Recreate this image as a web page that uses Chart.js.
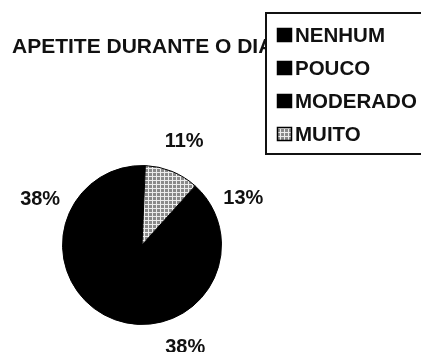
<!DOCTYPE html>
<html>
<head>
<meta charset="utf-8">
<script src="https://cdn.jsdelivr.net/npm/chart.js@4/dist/chart.umd.min.js"></script>
<style>
  html, body { margin: 0; padding: 0; background: #ffffff; }
  canvas { display: block; }
</style>
</head>
<body>
<canvas id="pie" width="421" height="352"></canvas>
<script>
// Appetite during the day: share of answers per category (percent)
const categories = ['NENHUM', 'POUCO', 'MODERADO', 'MUITO'];
const shares = [13, 38, 38, 11];
const chartTitle = 'APETITE DURANTE O DIA';

// light grey cross-hatched fill used for the "MUITO" slice
function hatchPattern() {
  const c = document.createElement('canvas');
  c.width = 4; c.height = 4;
  const g = c.getContext('2d');
  g.fillStyle = '#8a8a8a';
  g.fillRect(0, 0, 4, 4);
  g.fillStyle = '#ececec';
  g.fillRect(0, 0, 1, 4);
  g.fillRect(0, 0, 4, 1);
  return g.createPattern(c, 'repeat');
}
const hatch = hatchPattern();
const sliceColors = ['#000000', '#000000', '#000000', hatch];

const FONT = '"Liberation Sans", Arial, Helvetica, sans-serif';

// solid disc under the slices so adjoining black slices show no seams
const pieBacking = {
  id: 'pieBacking',
  beforeDatasetsDraw(chart) {
    const arc = chart.getDatasetMeta(0).data[0];
    if (!arc) return;
    const p = arc.getProps(['x', 'y', 'outerRadius'], true);
    const ctx = chart.ctx;
    ctx.save();
    ctx.fillStyle = '#000000';
    ctx.beginPath();
    ctx.arc(p.x, p.y, p.outerRadius - 0.5, 0, Math.PI * 2);
    ctx.fill();
    ctx.restore();
  }
};

// percentage labels placed outside each slice
const sliceLabels = {
  id: 'sliceLabels',
  afterDatasetsDraw(chart) {
    const ctx = chart.ctx;
    const meta = chart.getDatasetMeta(0);
    ctx.save();
    ctx.fillStyle = '#111111';
    ctx.font = 'bold 20px ' + FONT;
    ctx.textAlign = 'center';
    ctx.textBaseline = 'middle';
    meta.data.forEach((arc, i) => {
      const p = arc.getProps(['x', 'y', 'startAngle', 'endAngle', 'outerRadius'], true);
      const mid = (p.startAngle + p.endAngle) / 2;
      const r = p.outerRadius + 32;
      ctx.fillText(chart.data.datasets[0].data[i] + '%', p.x + Math.cos(mid) * r, p.y + Math.sin(mid) * r);
    });
    ctx.restore();
  }
};

// title on the left and boxed legend in the top-right corner
const titleAndLegend = {
  id: 'titleAndLegend',
  afterDraw(chart) {
    const ctx = chart.ctx;
    ctx.save();
    ctx.fillStyle = '#111111';
    ctx.font = 'bold 21px ' + FONT;
    ctx.textAlign = 'left';
    ctx.textBaseline = 'middle';
    ctx.fillText(chartTitle, 12, 47);

    const bx = 266, by = 13, bw = 170, bh = 141;
    ctx.fillStyle = '#ffffff';
    ctx.fillRect(bx, by, bw, bh);
    ctx.lineWidth = 2;
    ctx.strokeStyle = '#111111';
    ctx.strokeRect(bx, by, bw, bh);

    const colors = chart.data.datasets[0].backgroundColor;
    ctx.font = 'bold 20.5px ' + FONT;
    chart.data.labels.forEach((lab, i) => {
      const cy = 35 + i * 33;
      ctx.fillStyle = colors[i];
      ctx.fillRect(277, cy - 7, 15, 14);
      ctx.lineWidth = 1.5;
      ctx.strokeStyle = '#000000';
      ctx.strokeRect(277.5, cy - 6.5, 14, 13);
      ctx.fillStyle = '#111111';
      ctx.fillText(lab, 295, cy + 1);
    });
    ctx.restore();
  }
};

new Chart(document.getElementById('pie'), {
  type: 'pie',
  data: {
    labels: categories,
    datasets: [{
      data: shares,
      backgroundColor: sliceColors,
      borderColor: '#000000',
      borderWidth: 1,
      hoverOffset: 0
    }]
  },
  options: {
    responsive: false,
    animation: false,
    rotation: 42,
    layout: { padding: { left: 62, right: 199, top: 165, bottom: 27 } },
    plugins: {
      legend: { display: false },
      title: { display: false },
      tooltip: { enabled: false }
    }
  },
  plugins: [pieBacking, sliceLabels, titleAndLegend]
});
</script>
</body>
</html>
